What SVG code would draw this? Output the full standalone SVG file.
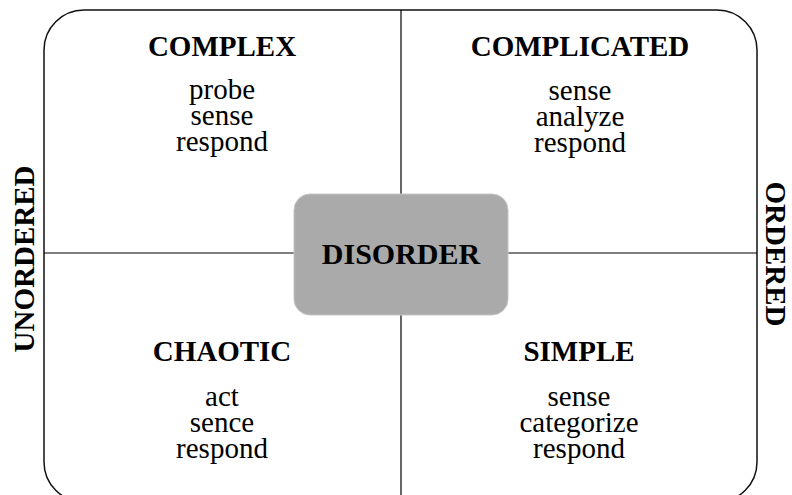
<svg xmlns="http://www.w3.org/2000/svg" width="792" height="495" viewBox="0 0 792 495">
  <style>
    .frame { fill: none; stroke: #111; stroke-width: 1.5; }
    .axis { stroke: #000; stroke-width: 1.2; }
    .head { font-family: "Liberation Serif", "Times New Roman", serif; font-weight: bold; font-size: 29px; fill: #000; text-anchor: middle; }
    .body { font-family: "Liberation Serif", "Times New Roman", serif; font-size: 29px; fill: #000; text-anchor: middle; }
    .side { font-family: "Liberation Serif", "Times New Roman", serif; font-weight: bold; font-size: 29px; fill: #000; text-anchor: middle; }
  </style>

  <!-- outer frame and the two axes -->
  <g id="connectors">
    <rect class="frame" x="44" y="10" width="713" height="492" rx="40" ry="40"/>
    <line class="axis" x1="401" y1="10" x2="401" y2="495"/>
    <line class="axis" x1="44" y1="253" x2="757" y2="253"/>
  </g>

  <g id="complex">
    <text class="head" x="222" y="56">COMPLEX</text>
    <text class="body" x="222" y="99">probe</text>
    <text class="body" x="222" y="125">sense</text>
    <text class="body" x="222" y="151">respond</text>
  </g>

  <g id="complicated">
    <text class="head" x="580" y="56">COMPLICATED</text>
    <text class="body" x="580" y="100">sense</text>
    <text class="body" x="580" y="126">analyze</text>
    <text class="body" x="580" y="152">respond</text>
  </g>

  <g id="chaotic">
    <text class="head" x="222" y="361">CHAOTIC</text>
    <text class="body" x="222" y="406">act</text>
    <text class="body" x="222" y="432">sence</text>
    <text class="body" x="222" y="458">respond</text>
  </g>

  <g id="simple">
    <text class="head" x="579" y="361">SIMPLE</text>
    <text class="body" x="579" y="406">sense</text>
    <text class="body" x="579" y="432">categorize</text>
    <text class="body" x="579" y="458">respond</text>
  </g>

  <g id="disorder">
    <rect x="294" y="194" width="214" height="121" rx="16" ry="16" fill="#aaaaaa" stroke="#c4c4c4" stroke-width="1"/>
    <text class="head" x="401" y="264" style="font-size:30px">DISORDER</text>
  </g>

  <g id="unordered">
    <text class="side" transform="translate(34 259) rotate(-90)">UNORDERED</text>
  </g>

  <g id="ordered">
    <text class="side" transform="translate(766 254) rotate(90)">ORDERED</text>
  </g>
</svg>
